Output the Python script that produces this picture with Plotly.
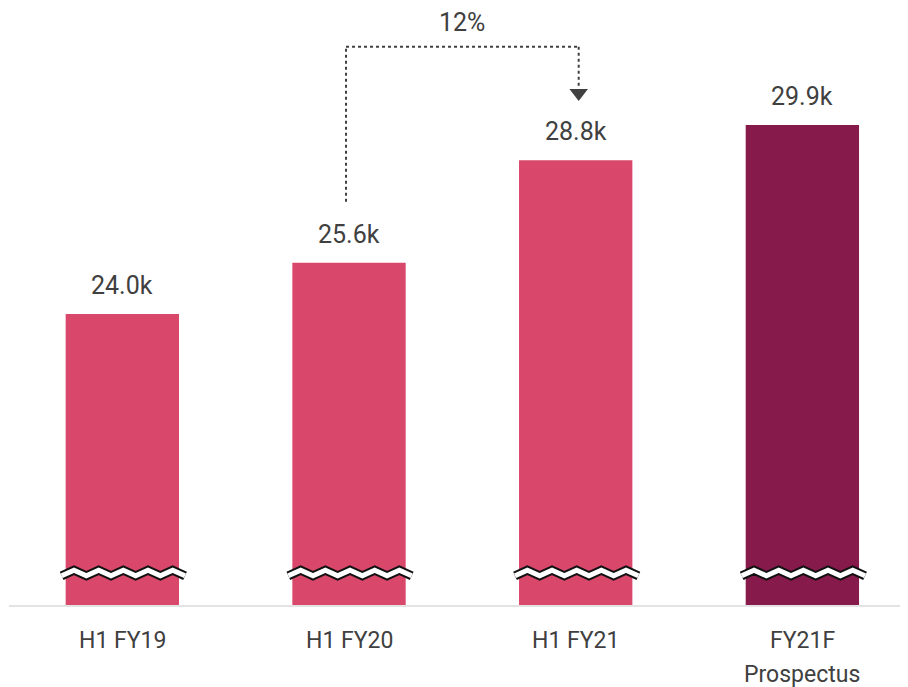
import plotly.graph_objects as go

# ---- data ----
categories = ["H1 FY19", "H1 FY20", "H1 FY21", "FY21F<br>Prospectus"]
values_k = [24.0, 25.6, 28.8, 29.9]
bar_colors = ["#D9476A", "#D9476A", "#D9476A", "#861A4A"]
growth_label = "12%"
growth_from = 1
growth_to = 2

# ---- layout constants (page has 8px body margin) ----
W, H = 900, 679
M_L, M_B = 1, 82
X_RANGE = [-0.5, 3.466]
Y_RANGE = [14.915, 33.554]
BAR_W = 0.5
TEXT = "#404040"
FONT = "Roboto"
LINE_GAP = 34      # px between tick label lines
TICK_TOP = 26      # px from axis line to first tick line cap top

plot_w = W - M_L
plot_h = H - M_B
px_x = (X_RANGE[1] - X_RANGE[0]) / plot_w   # data units per pixel (x)
px_y = (Y_RANGE[1] - Y_RANGE[0]) / plot_h   # data units per pixel (y)

fig = go.Figure()
fig.add_trace(go.Bar(
    x=list(range(len(categories))), y=values_k,
    marker=dict(color=bar_colors, line=dict(width=0)),
    width=BAR_W, base=0, hoverinfo="skip",
))

annotations = []
for i, v in enumerate(values_k):
    annotations.append(dict(
        x=i, y=v, xref="x", yref="y", text=f"{v:.1f}k", showarrow=False,
        yanchor="bottom", yshift=12, font=dict(size=25, color=TEXT, family=FONT),
    ))

# ---- category labels (one annotation per line) ----
for i, lab in enumerate(categories):
    for k, line in enumerate(lab.split("<br>")):
        annotations.append(dict(
            x=i, y=0, xref="x", yref="paper", text=line, showarrow=False,
            yanchor="top", yshift=-(TICK_TOP - 6) - k * LINE_GAP,
            font=dict(size=23, color=TEXT, family=FONT),
        ))

# ---- axis-break zigzags ----
shapes = []
break_y = Y_RANGE[0] + 32 * px_y
amp = 2.8 * px_y
n_teeth = 5
for i in range(len(categories)):
    x0 = i - BAR_W / 2 - 4 * px_x
    x1 = i + BAR_W / 2 + 6 * px_x
    step = (x1 - x0) / (n_teeth * 2)
    pts = []
    for k in range(n_teeth * 2 + 1):
        yy = break_y + (amp if k % 2 == 1 else -amp)
        pts.append(f"{x0 + k * step:.5f},{yy:.5f}")
    path = "M " + " L ".join(pts)
    shapes.append(dict(type="path", path=path, xref="x", yref="y",
                       line=dict(color="#111111", width=9)))
    shapes.append(dict(type="path", path=path, xref="x", yref="y",
                       line=dict(color="white", width=5)))

# ---- growth bracket ----
gx0 = growth_from - 3 * px_x
gx1 = growth_to + 3 * px_x
top_y = Y_RANGE[1] - 38.7 * px_y
left_bottom = values_k[growth_from] + 61 * px_y
head_top = Y_RANGE[1] - 79 * px_y
dot = dict(color=TEXT, width=2, dash="dot")
shapes.append(dict(type="line", xref="x", yref="y", x0=gx0, x1=gx0,
                   y0=left_bottom, y1=top_y, line=dot))
shapes.append(dict(type="line", xref="x", yref="y", x0=gx0, x1=gx1,
                   y0=top_y, y1=top_y, line=dot))
shapes.append(dict(type="line", xref="x", yref="y", x0=gx1, x1=gx1,
                   y0=top_y, y1=head_top, line=dot))
fig.add_trace(go.Scatter(
    x=[gx1], y=[Y_RANGE[1] - 85 * px_y], mode="markers",
    marker=dict(symbol="triangle-down", size=16, color=TEXT), hoverinfo="skip",
))
annotations.append(dict(
    x=(gx0 + gx1) / 2, y=top_y, xref="x", yref="y", text=growth_label,
    showarrow=False, yanchor="bottom", yshift=8,
    font=dict(size=25, color=TEXT, family=FONT),
))

fig.update_layout(
    width=W, height=H,
    margin=dict(l=M_L, r=0, t=0, b=M_B),
    plot_bgcolor="white", paper_bgcolor="white",
    showlegend=False,
    annotations=annotations, shapes=shapes,
    xaxis=dict(range=X_RANGE, tickmode="array",
               tickvals=list(range(len(categories))), showticklabels=False,
               showgrid=False, zeroline=False, showline=True,
               linecolor="#E3E3E3", linewidth=2, ticks=""),
    yaxis=dict(range=Y_RANGE, visible=False, showgrid=False, zeroline=False),
)

fig.write_html("out.html")
